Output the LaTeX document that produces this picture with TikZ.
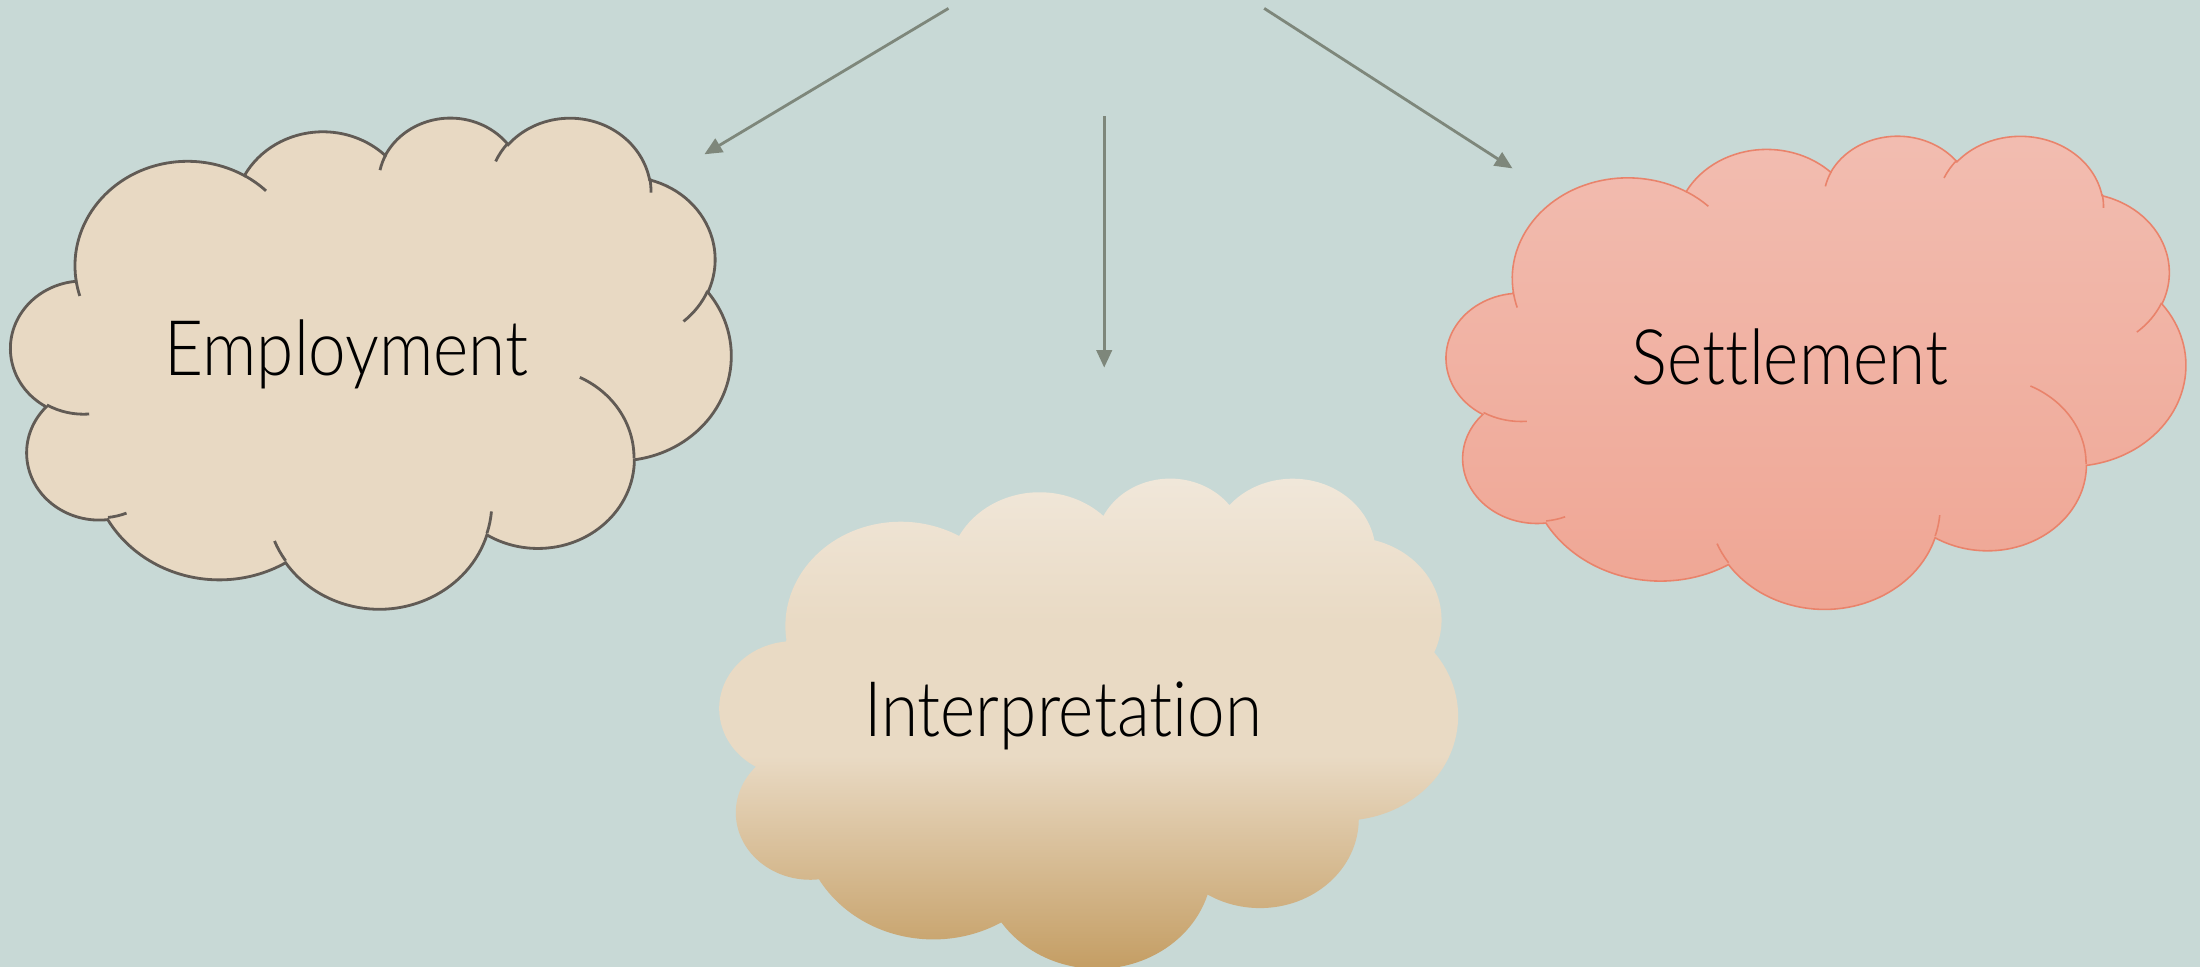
\documentclass[tikz,border=0pt]{standalone}
\usepackage{fontspec}
\setmainfont{Lato}[UprightFont=* Light,FakeStretch=0.88,Ligatures=NoCommon]
\usetikzlibrary{arrows.meta,positioning}
\definecolor{cBg}{HTML}{C8D9D6}
\definecolor{cArr}{HTML}{7E877B}
\definecolor{cSand}{HTML}{E8D9C3}
\definecolor{cEdge}{HTML}{615B55}
\definecolor{cRoseT}{HTML}{F2BDB1}
\definecolor{cRoseB}{HTML}{EFA593}
\definecolor{cRoseE}{HTML}{E9836B}
\definecolor{cCreamT}{HTML}{F1E8DB}
\definecolor{cCreamM}{HTML}{E9DAC4}
\definecolor{cTan}{HTML}{C29A5E}
\pgfdeclareverticalshading{tanfade}{100bp}{color(0bp)=(cTan); color(25bp)=(cTan);
  color(47bp)=(cCreamM); color(60bp)=(cCreamM); color(75bp)=(cCreamT); color(100bp)=(cCreamT)}
\tikzset{
  cloudbox/.style n args={4}{shift={(#1,#2)},xscale=#3/432,yscale=#4/432},
  sandfill/.style={fill=cSand,draw=cEdge,line width=0.8pt},
  sandfold/.style={draw=cEdge,line width=0.8pt},
  rosefill/.style={top color=cRoseT,bottom color=cRoseB,draw=cRoseE,line width=0.45pt},
  rosefold/.style={draw=cRoseE,line width=0.45pt},
  tanfill/.style={shading=tanfade},
  lbl/.style={font=\fontsize{21.8}{26}\selectfont,text=black,inner sep=0pt,anchor=base},
  feed/.style={-{Triangle[length=5pt,width=4.4pt]},line width=0.8pt,cArr},
}
% one arc of the cloud outline: x radius, y radius, start, sweep
\newcommand{\carc}[4]{%
  \pgfextra{%
    \pgfmathparse{atan2(#1*sin(#3),#2*cos(#3))}\xdef\cls{\pgfmathresult}%
    \pgfmathparse{atan2(#1*sin(#3+#4),#2*cos(#3+#4))}\xdef\cle{\pgfmathresult}%
    \pgfmathparse{(\cle)+360*round(((#4)-(\cle)+(\cls))/360)}\xdef\cle{\pgfmathresult}%
  }
  arc[x radius=#1,y radius=#2,start angle=\cls,end angle=\cle]}
\newcommand{\cloudline}{%
  (39,143.7)
  \carc{67.53}{91.90}{-190.4875}{123.7805}
  \carc{53.33}{72.67}{-144.1024}{89.9452}
  \carc{43.65}{59.45}{-145.8079}{99.7230}
  \carc{48.57}{65.95}{-130.9861}{117.2417}
  \carc{53.33}{72.73}{-78.7089}{109.0269}
  \carc{67.75}{92.20}{-46.2673}{130.2690}
  \carc{57.85}{78.67}{0.6250}{114.0333}
  \carc{67.52}{92.15}{22.4516}{115.1726}
  \carc{77.20}{105.43}{66.2426}{75.7110}
  \carc{43.60}{59.18}{-274.9421}{146.7356}
  \carc{43.45}{59.45}{-246.8285}{152.5189}
  -- cycle}
\newcommand{\cloudfolds}{%
  (46.93,261.77) \carc{43.45}{59.45}{86.7420}{26.4295}
  (69.28,348.99) \carc{43.60}{59.18}{73.6105}{11.4475}
  (164.78,390.90) \carc{67.52}{92.15}{137.6242}{14.0811}
  (288.27,347.51) \carc{67.52}{92.15}{6.4533}{15.9984}
  (341.29,229.54) \carc{57.85}{78.67}{-70.2924}{70.9174}
  (417.98,153.54) \carc{53.33}{72.73}{30.3180}{27.7515}
  (383.24,54.26) \carc{48.57}{65.95}{-13.7443}{14.8589}
  (290.78,39.52) \carc{48.57}{65.95}{-149.1815}{18.1954}
  (221.41,47.20) \carc{43.65}{59.45}{-163.4943}{17.6864}
  (140.00,51.92) \carc{67.53}{91.90}{-66.7070}{12.3194}
  (41.27,157.89) \carc{67.53}{91.90}{157.6544}{11.8582}}

\begin{document}
\begin{tikzpicture}[x=0.1mm,y=-0.1mm]
  \useasboundingbox (0,0) rectangle (2200,967);
  \fill[cBg] (0,0) rectangle (2200,967);

  \begin{scope}[cloudbox={11}{116.5}{720}{491}]
    \path[sandfill] \cloudline;
    \path[sandfold] \cloudfolds;
  \end{scope}
  \begin{scope}[cloudbox={1446.6}{134.7}{739}{473}]
    \path[rosefill] \cloudline;
    \path[rosefold] \cloudfolds;
  \end{scope}
  \begin{scope}[cloudbox={719.8}{477}{738}{490}]
    \path[tanfill] \cloudline;
  \end{scope}

  \node[lbl] (employment) at (346.6,376) {Employment};
  \node[lbl] (settlement) at (1790,384.5) {Settlement};
  \node[lbl] (interp) at (1063,736.6) {Interpretation};

  \coordinate (src-l) at (948.5,8.4);
  \coordinate (src-m) at (1104.2,116.5);
  \coordinate (src-r) at (1264.2,8.4);
  \coordinate (employment-in) at (704.4,154.3);
  \coordinate (interp-in) at (1104.2,367.6);
  \coordinate (settlement-in) at (1512.5,168.4);
  \draw[feed] (src-l) -- (employment-in);
  \draw[feed] (src-m) -- (interp-in);
  \draw[feed] (src-r) -- (settlement-in);
\end{tikzpicture}
\end{document}
